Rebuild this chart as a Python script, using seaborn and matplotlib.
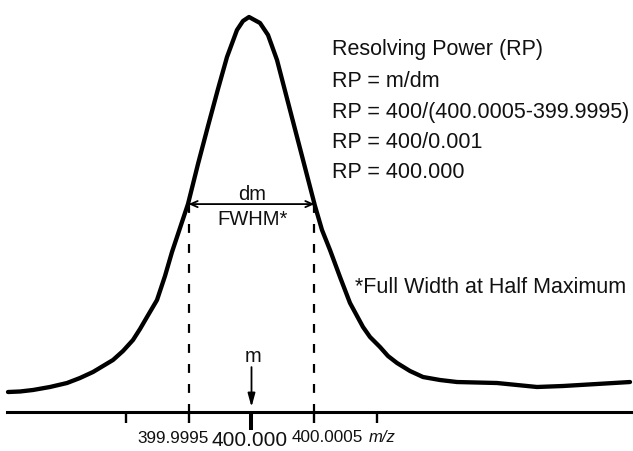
import matplotlib
matplotlib.use("Agg")
import matplotlib.pyplot as plt
import seaborn as sns
import pandas as pd

# ---- data ----
mz = [399.9980675, 399.9981627, 399.9982659, 399.9984008, 399.9985357, 399.9986389,
      399.9987421, 399.9988214, 399.9989008, 399.9989802, 399.9990595, 399.9991151,
      399.9991706, 399.99925, 399.9993135, 399.999369, 399.9994325, 399.999496,
      399.9995754, 399.9996548, 399.9997341, 399.9998056, 399.9998849, 399.9999325,
      399.9999802, 400.0000675, 400.000131, 400.0002024, 400.0003056, 400.0004008,
      400.000504, 400.0005595, 400.000623, 400.0007024, 400.0007817, 400.0008849,
      400.0009405, 400.0010198, 400.0010833, 400.0011548, 400.0012579, 400.0013611,
      400.001496, 400.001631, 400.0019484, 400.0022659, 400.0024722, 400.0027421,
      400.003004]
intensity = [4.99, 5.12, 5.50, 6.26, 7.27, 8.54,
             10.06, 11.58, 13.10, 15.38, 18.17, 20.95,
             23.99, 28.30, 34.38, 40.46, 46.54, 52.62,
             62.76, 72.38, 81.76, 89.87, 96.71, 98.99,
             100.0, 98.48, 95.44, 89.11, 76.44, 64.78,
             52.12, 46.04, 40.97, 34.13, 27.54, 21.46,
             18.93, 16.39, 14.11, 12.34, 10.31, 8.79,
             8.03, 7.52, 7.27, 6.26, 6.51, 7.02,
             7.52]

m_center = 400.000
fwhm_left = 399.9995
fwhm_right = 400.0005
half_level = 52.6
minor_ticks = [399.999, 399.9995, 400.0005, 400.001]
major_ticks = [400.000]
axis_unit = "m/z"
title_lines = ["Resolving Power (RP)", "RP = m/dm", "RP = 400/(400.0005-399.9995)",
               "RP = 400/0.001", "RP = 400.000"]
footnote = "*Full Width at Half Maximum"

# ---- figure ----
sns.set_style("white")
plt.rcParams["font.family"] = ["Liberation Sans", "DejaVu Sans"]
plt.rcParams["text.color"] = "#111111"

W, H = 633, 451
fig = plt.figure(figsize=(W / 100, H / 100), dpi=100)
ax = fig.add_axes([0, 0, 1, 1])

df = pd.DataFrame({"mz": mz, "intensity": intensity})
sns.lineplot(data=df, x="mz", y="intensity", sort=True, estimator=None,
             color="black", linewidth=3.1, ax=ax)
for l in ax.lines:
    l.set_solid_joinstyle("round")
    l.set_solid_capstyle("round")

px_per_unit = 126000.0
x0 = 251.5
ax.set_xlim(400 - x0 / px_per_unit, 400 + (W - x0) / px_per_unit)
k = 100 / 394.7
ax.set_ylim((411.7 - H) * k, 411.7 * k)

# axis line and ticks
for s in ["top", "left", "right"]:
    ax.spines[s].set_visible(False)
ax.spines["bottom"].set_position(("data", 0))
ax.spines["bottom"].set_linewidth(2.2)
ax.spines["bottom"].set_color("black")
ax.spines["bottom"].set_bounds(400 - (x0 - 7) / px_per_unit, ax.get_xlim()[1])
ax.set_xticks(major_ticks)
ax.set_xticks(minor_ticks, minor=True)
ax.set_xticklabels([])
ax.set_yticks([])
ax.tick_params(axis="x", which="major", direction="out", length=13, width=2.9,
               color="black", bottom=True)
ax.tick_params(axis="x", which="minor", direction="out", length=8, width=1.7,
               color="black", bottom=True)
ax.set_xlabel("")
ax.set_ylabel("")
ax.grid(False)

# dashed FWHM lines
for xv in (fwhm_left, fwhm_right):
    ax.plot([xv, xv], [half_level, 0], color="black", lw=1.6,
            linestyle=(0, (4, 5)))

# dm double arrow
ax.annotate("", xy=(fwhm_left, half_level), xytext=(fwhm_right, half_level),
            arrowprops=dict(arrowstyle="<->,head_length=0.5,head_width=0.22",
                            lw=1.3, color="black", shrinkA=0, shrinkB=0))

def fx(px):
    return px / W

def fy(py):
    return 1 - py / H

ax.text(fx(252), fy(200), "dm", transform=ax.transAxes, ha="center",
        va="baseline", fontsize=14.5)
ax.text(fx(253), fy(225), "FWHM*", transform=ax.transAxes, ha="center",
        va="baseline", fontsize=14.5)

# m arrow
ax.annotate("", xy=(m_center, 1.2), xytext=(m_center, 11.3),
            arrowprops=dict(arrowstyle="-|>,head_length=0.8,head_width=0.22",
                            lw=1.3, color="black", shrinkA=0, shrinkB=0))
ax.text(fx(253), fy(362), "m", transform=ax.transAxes, ha="center",
        va="baseline", fontsize=14.5)

# tick labels
ax.text(fx(209), fy(443), "399.9995", transform=ax.transAxes, ha="right",
        va="baseline", fontsize=12.3)
ax.text(fx(250), fy(446), "400.000", transform=ax.transAxes, ha="center",
        va="baseline", fontsize=15)
ax.text(fx(292), fy(442), "400.0005", transform=ax.transAxes, ha="left",
        va="baseline", fontsize=12.3)
ax.text(fx(369), fy(442), axis_unit, transform=ax.transAxes, ha="left",
        va="baseline", fontsize=12, style="italic")

# RP text block
baselines = [55, 87, 118, 148, 178]
for t, b in zip(title_lines, baselines):
    ax.text(fx(332), fy(b), t, transform=ax.transAxes, ha="left",
            va="baseline", fontsize=15.5)
ax.text(fx(355), fy(293), footnote, transform=ax.transAxes, ha="left",
        va="baseline", fontsize=15.5)

fig.savefig("out.png", dpi=100, facecolor="white")
